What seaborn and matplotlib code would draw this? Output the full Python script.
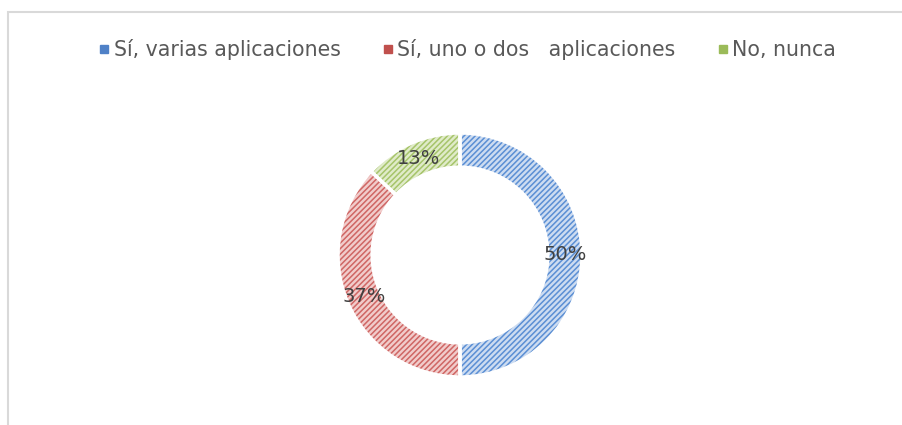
import matplotlib.pyplot as plt
import seaborn as sns
from matplotlib.lines import Line2D
from matplotlib.patches import Rectangle

# Data
categories = ["Sí, varias aplicaciones", "Sí, uno o dos   aplicaciones", "No, nunca"]
values = [50, 37, 13]
line_colors = ["#5b8fd4", "#cf6664", "#a6c46a"]
fill_colors = ["#cddcf1", "#f1cccb", "#e0ebc9"]
legend_colors = ["#4f81c7", "#c0504d", "#9bbb59"]

sns.set_theme(style="white")
plt.rcParams["font.family"] = ["DejaVu Sans"]
plt.rcParams["hatch.linewidth"] = 1.1

fig = plt.figure(figsize=(9.03, 4.25), dpi=100)

# Donut: centre (460, 255) px, outer radius 122 px
W, H = 903, 425
cx, cy, r = 460, 255, 122
ax = fig.add_axes([(cx - r) / W, (H - cy - r) / H, 2 * r / W, 2 * r / H])

wedges, texts, autotexts = ax.pie(
    values,
    startangle=90,
    counterclock=False,
    radius=1,
    wedgeprops={"width": 0.28, "linewidth": 0},
    autopct="%.0f%%",
    pctdistance=0.86,
    textprops={"color": "#404040", "fontsize": 14},
)
for w, fc, lc in zip(wedges, fill_colors, line_colors):
    w.set_facecolor(fc)
    w.set_edgecolor(lc)
    w.set_hatch("//////")
    w.set_linewidth(0)

# white gaps between the slices
ax.pie(
    values,
    startangle=90,
    counterclock=False,
    radius=1,
    colors=["none"] * len(values),
    wedgeprops={"width": 0.28, "linewidth": 2.5, "edgecolor": "white"},
)
for t in autotexts:
    t.set_zorder(5)
ax.set_xlim(-1, 1)
ax.set_ylim(-1, 1)
ax.set_aspect("equal")
ax.axis("off")

# Legend
handles = [
    Line2D([0], [0], marker="s", linestyle="none", markersize=5.5,
           markerfacecolor=c, markeredgecolor=c)
    for c in legend_colors
]
fig.legend(
    handles,
    categories,
    loc="center",
    bbox_to_anchor=(467 / W, 1 - 50 / H),
    ncol=3,
    frameon=False,
    fontsize=14.8,
    labelcolor="#595959",
    handletextpad=0.15,
    columnspacing=2.0,
    handlelength=0.6,
)

# Chart area border
fig.add_artist(Rectangle((7.5 / W, -0.1), 1.2, (H - 11.5) / H + 0.1,
                         transform=fig.transFigure, fill=False,
                         edgecolor="#d9d9d9", linewidth=1.5))

fig.savefig("out.png", dpi=100)
